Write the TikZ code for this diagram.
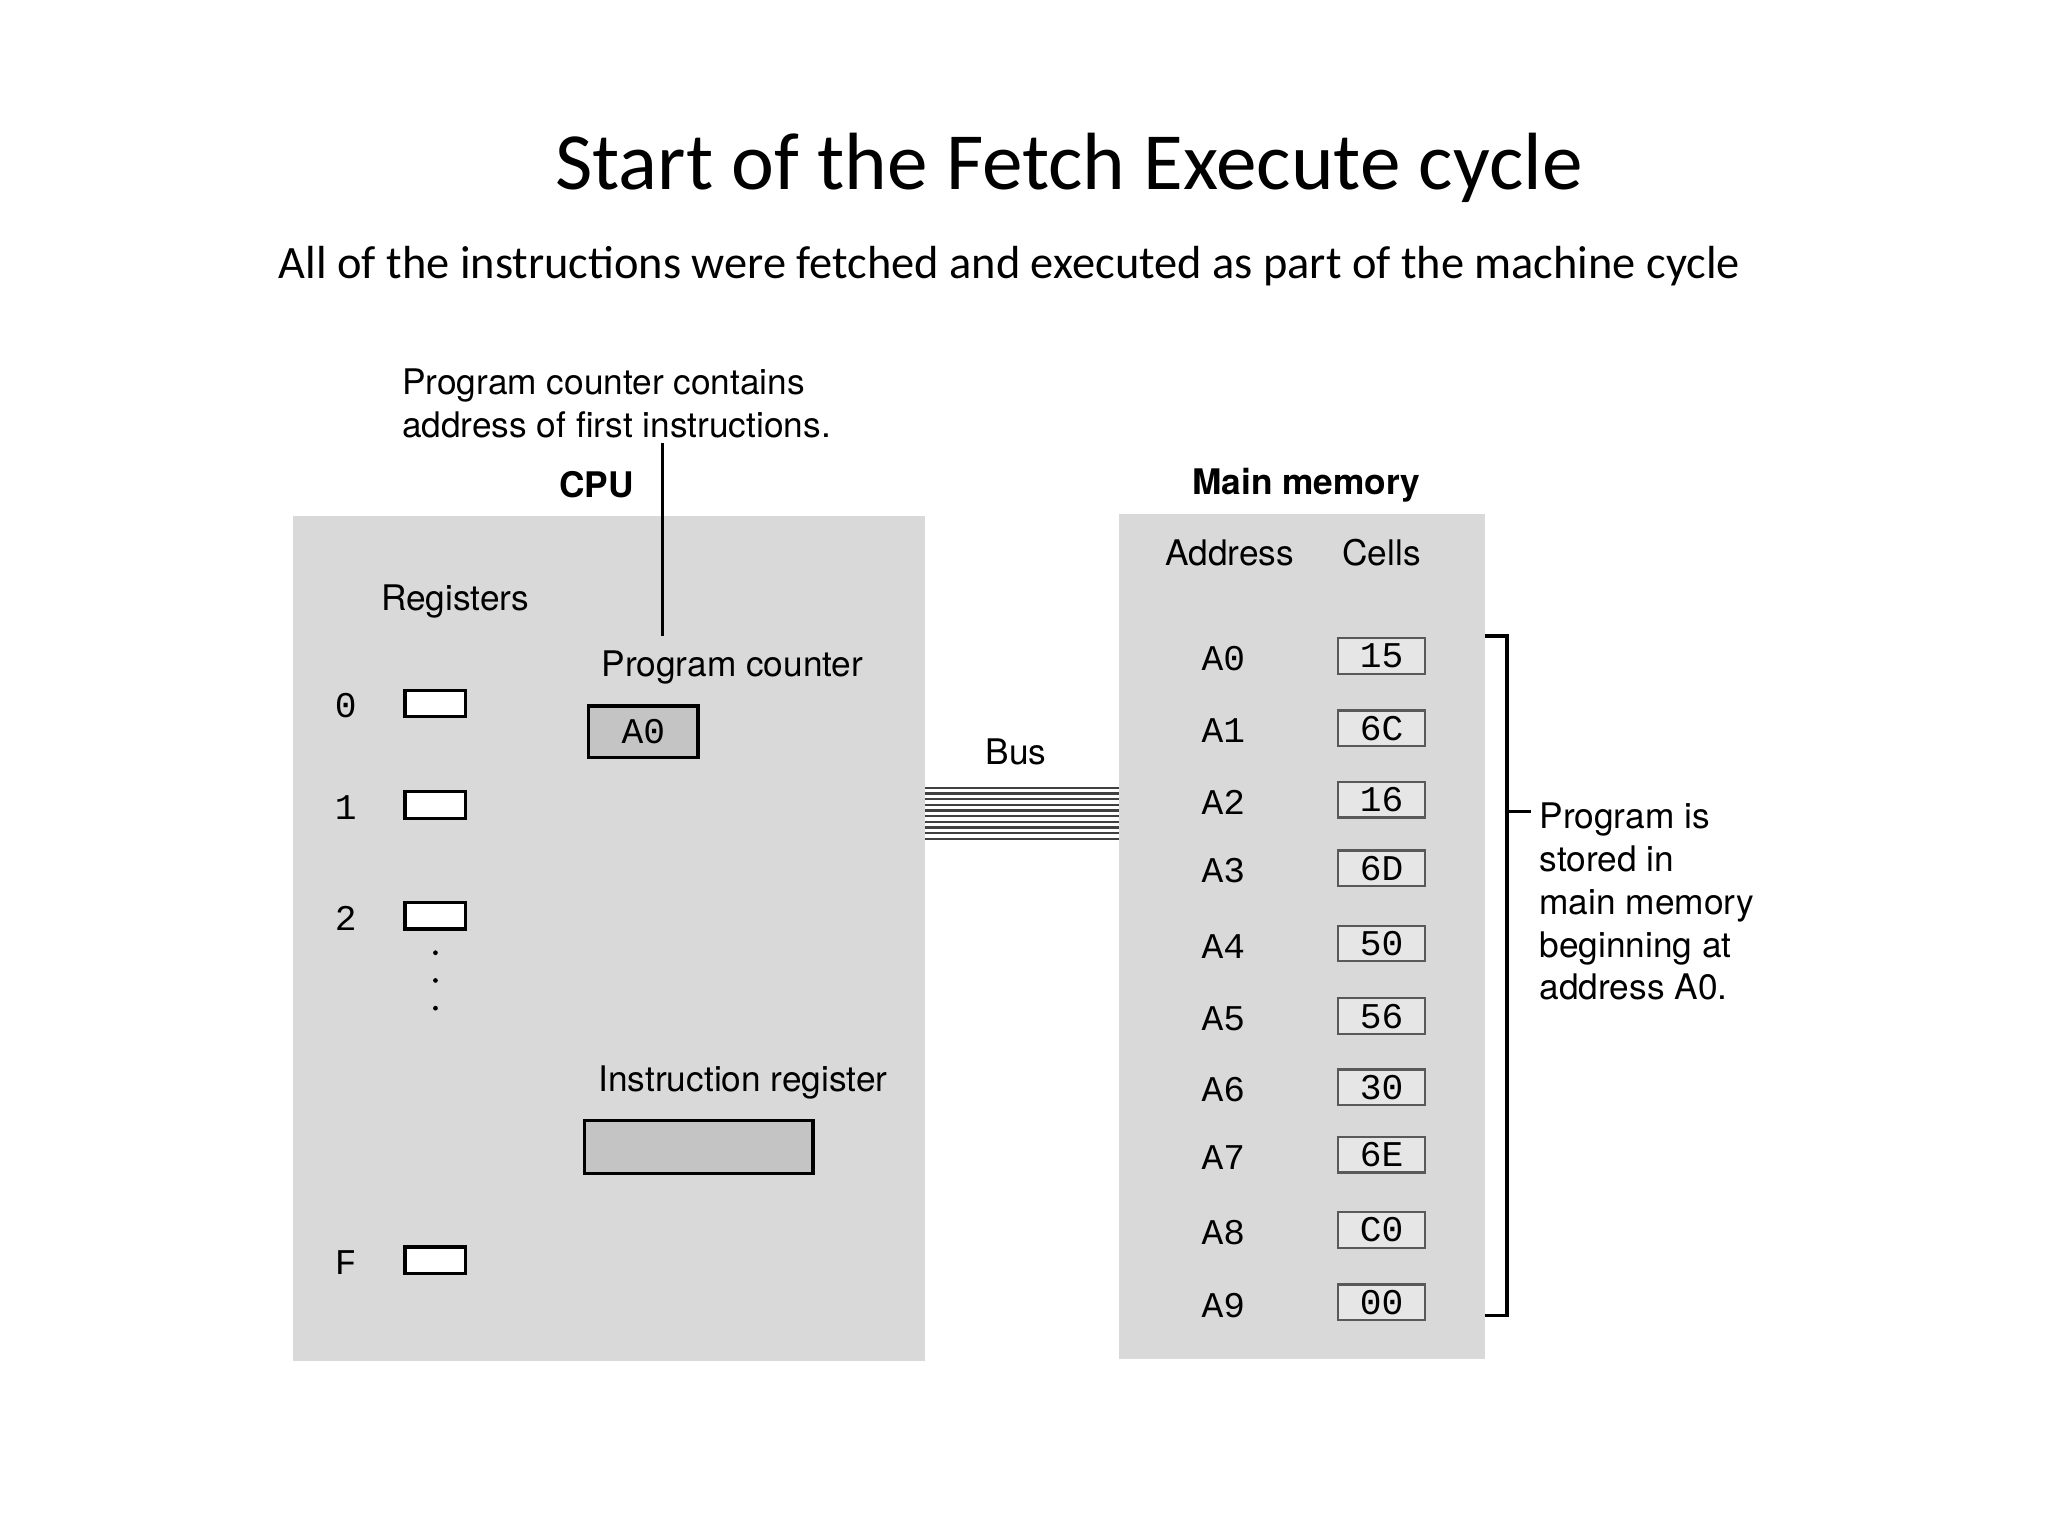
\documentclass[tikz,border=0pt]{standalone}
\usepackage{fontspec}
\setmainfont{Carlito}
\newfontfamily\hv{TeX Gyre Heros}
\newfontfamily\mono{Liberation Mono}
\definecolor{boxgray}{HTML}{D9D9D9}
\definecolor{regdark}{HTML}{C4C4C4}
\definecolor{celll}{HTML}{E6E6E6}
\begin{document}
\begin{tikzpicture}[x=0.01cm,y=-0.01cm,
  lbl/.style={font=\hv\fontsize{7.6}{9.2}\selectfont,inner sep=0pt},
  blbl/.style={font=\hv\bfseries\fontsize{7.6}{9.2}\selectfont,inner sep=0pt},
  mlbl/.style={font=\mono\fontsize{7.8}{9}\selectfont,inner sep=0pt},
  panel/.style={fill=boxgray,draw=none},
  regbox/.style={draw=black,fill=white,line width=0.7pt},
  cellbox/.style={draw=gray!70!black,fill=celll,line width=0.5pt,minimum width=0.66cm,minimum height=0.27cm,inner sep=0pt,font=\mono\fontsize{7.8}{9}\selectfont}]
\useasboundingbox[fill=white] (0,0) rectangle (1552,1164);
\node (title) at (810,127) {\fontsize{17.5}{20}\selectfont Start of the Fetch Execute cycle};
\node (sub) at (765,202) {\fontsize{10}{12}\selectfont All of the instructions were fetched and executed as part of the machine cycle};
% panels
\fill[boxgray] (222,391) rectangle (701,1031);
\node[panel,minimum width=4.79cm,minimum height=6.4cm,inner sep=0pt] (cpu) at (461.5,711) {};
\node[panel,minimum width=2.77cm,minimum height=6.4cm,inner sep=0pt] (mem) at (986.5,710) {};
\node[blbl] (cpul) at (452,367) {CPU};
\node[blbl] (meml) at (990,368) {Main memory};
% bus
\foreach \i in {0,...,9}{\draw[line width=0.45pt,black!75] (701,597+\i*4.3) -- (848,597+\i*4.3);}
\coordinate (bus) at (775,615);
\node[lbl] (busl) at (770,570) {Bus};
% annotation
\node[lbl,align=left,anchor=north west] (ann) at (304,279) {Program counter contains\\address of first instructions.};
\coordinate (annb) at (502,336);
\coordinate (pct) at (502,482);
\draw[line width=0.6pt] (annb) -- (pct);
% registers
\node[lbl] (regl) at (345,456) {Registers};
\foreach \n/\t/\yy in {r0/0/533,r1/1/610,r2/2/694,rf/F/955}{
  \draw[regbox] (307,\yy-10) rectangle (353,\yy+10);
  \node[mlbl] (\n) at (262,\yy+2) {\t};
}
\foreach \yy in {722,743,764}{\fill (330,\yy) circle (1.8);}
% program counter
\node[lbl] (pcl) at (555,506) {Program counter};
\node[draw=black,fill=regdark,line width=0.7pt,minimum width=0.83cm,minimum height=0.39cm,inner sep=0pt,mlbl] (pc) at (487.5,554.5) {A0};
\node[lbl] (irl) at (563,820) {Instruction register};
\node[draw=black,fill=regdark,line width=0.7pt,minimum width=1.73cm,minimum height=0.4cm,inner sep=0pt] (ir) at (529.5,869) {};
% memory
\node[lbl] (addr) at (932,419) {Address};
\node[lbl] (cells) at (1047,419) {Cells};
\foreach \a/\c/\yy in {A0/15/497,A1/6C/552,A2/16/606,A3/6D/658,A4/50/715,A5/56/770,A6/30/824,A7/6E/875,A8/C0/932,A9/00/987}{
  \node[mlbl] (ad\a) at (927,\yy+2) {\a};
  \node[cellbox] (c\a) at (1047,\yy) {\c};
}
% bracket
\coordinate (b1) at (1125,482);
\coordinate (b2) at (1142,482);
\coordinate (b3) at (1142,997);
\coordinate (b4) at (1125,997);
\coordinate (bt) at (1142,615);
\coordinate (bt2) at (1160,615);
\draw[line width=0.7pt] (b1) -- (b2) -- (b3) -- (b4);
\draw[line width=0.7pt] (bt) -- (bt2);
\node[lbl,align=left,anchor=north west] (note) at (1166,608) {Program is\\stored in\\main memory\\beginning at\\address A0.};
\end{tikzpicture}
\end{document}
